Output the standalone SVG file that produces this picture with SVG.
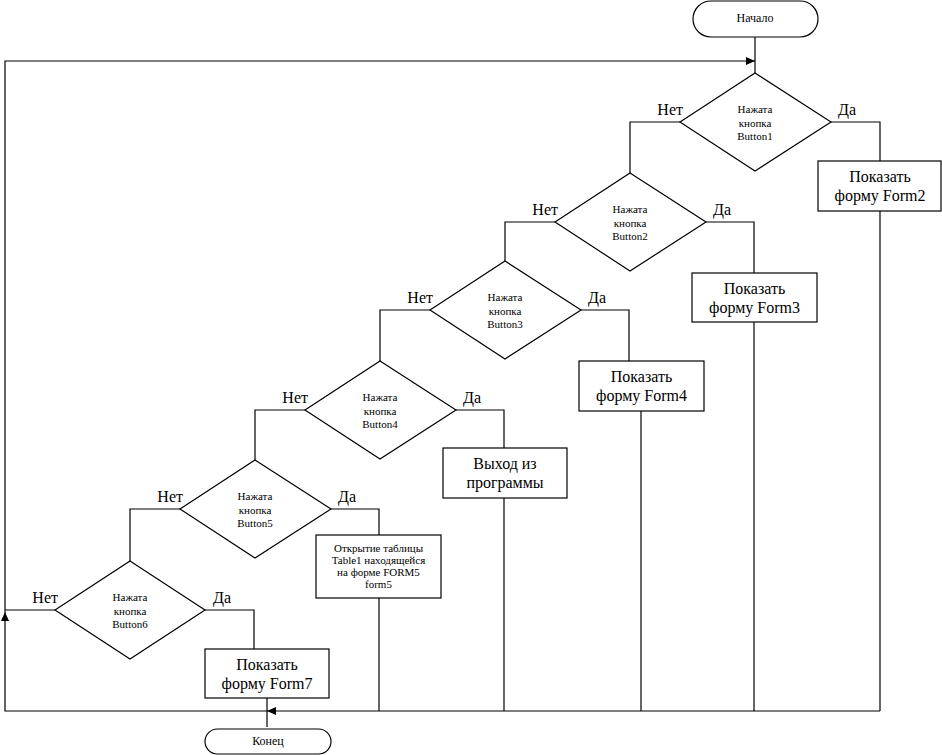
<svg xmlns="http://www.w3.org/2000/svg" width="942" height="755" viewBox="0 0 942 755">
<style>
.s{fill:#fff;stroke:#000;stroke-width:1.2}
.c{fill:none;stroke:#000;stroke-width:1.2}
text{font-family:"Liberation Serif","Times New Roman",serif;fill:#000}
.t{font-size:11px;text-anchor:middle}
.b{font-size:16px;text-anchor:middle}
.l{font-size:16px}
.e{text-anchor:end}
</style>
<defs>
<marker id="ar" markerWidth="10" markerHeight="8" refX="9" refY="4" orient="auto" markerUnits="userSpaceOnUse">
<path d="M0,0 L9,4 L0,8 Z" fill="#000"/>
</marker>
</defs>
<rect x="0" y="0" width="942" height="755" fill="#fff"/>
<g id="connectors">
<path class="c" d="M755,37 V73"/>
<path class="c" d="M880,711 H267" marker-end="url(#ar)"/>
<path class="c" d="M267,711 H5 V612" marker-end="url(#ar)"/>
<path class="c" d="M5,612 V61 H755" marker-end="url(#ar)"/>
<path class="c" d="M55,610 H5"/>
<path class="c" d="M267,698 V727"/>
<path class="c" d="M680,122 H630 V173"/>
<path class="c" d="M555,222 H505 V261"/>
<path class="c" d="M430,310 H380 V361"/>
<path class="c" d="M305,410 H255 V460"/>
<path class="c" d="M180,509 H130 V561"/>
<path class="c" d="M831,122 H880 V161"/>
<path class="c" d="M706,222 H754 V273"/>
<path class="c" d="M581,310 H629 V361"/>
<path class="c" d="M456,410 H504 V448"/>
<path class="c" d="M331,509 H379 V535"/>
<path class="c" d="M205,610 H254 V649"/>
<path class="c" d="M880,211 V711"/>
<path class="c" d="M754,322 V711"/>
<path class="c" d="M641,411 V711"/>
<path class="c" d="M504,498 V711"/>
<path class="c" d="M379,598 V711"/>
</g>
<g id="start">
<rect class="s" x="693" y="1" width="125" height="36" rx="18" ry="18"/>
<text x="755" y="22" font-size="12" text-anchor="middle">Начало</text>
</g>
<g id="end">
<rect class="s" x="205" y="729" width="126" height="25" rx="12.5" ry="12.5"/>
<text x="268" y="745" font-size="12" text-anchor="middle">Конец</text>
</g>
<g id="d1">
<polygon class="s" points="755,73 831,122 755,171 680,122"/>
<text class="t" x="755" y="113">Нажата</text>
<text class="t" x="755" y="127">кнопка</text>
<text class="t" x="755" y="140">Button1</text>
<text class="l e" x="683" y="115">Нет</text>
<text class="l" x="838" y="115">Да</text>
</g>
<g id="d2">
<polygon class="s" points="630,173 706,222 630,271 555,222"/>
<text class="t" x="630" y="213">Нажата</text>
<text class="t" x="630" y="227">кнопка</text>
<text class="t" x="630" y="240">Button2</text>
<text class="l e" x="558" y="215">Нет</text>
<text class="l" x="713" y="215">Да</text>
</g>
<g id="d3">
<polygon class="s" points="505,261 581,310 505,359 430,310"/>
<text class="t" x="505" y="301">Нажата</text>
<text class="t" x="505" y="315">кнопка</text>
<text class="t" x="505" y="328">Button3</text>
<text class="l e" x="433" y="303">Нет</text>
<text class="l" x="588" y="303">Да</text>
</g>
<g id="d4">
<polygon class="s" points="380,361 456,410 380,459 305,410"/>
<text class="t" x="380" y="401">Нажата</text>
<text class="t" x="380" y="415">кнопка</text>
<text class="t" x="380" y="428">Button4</text>
<text class="l e" x="308" y="403">Нет</text>
<text class="l" x="463" y="403">Да</text>
</g>
<g id="d5">
<polygon class="s" points="255,460 331,509 255,558 180,509"/>
<text class="t" x="255" y="500">Нажата</text>
<text class="t" x="255" y="514">кнопка</text>
<text class="t" x="255" y="527">Button5</text>
<text class="l e" x="183" y="502">Нет</text>
<text class="l" x="338" y="502">Да</text>
</g>
<g id="d6">
<polygon class="s" points="130,561 205,610 130,659 55,610"/>
<text class="t" x="130" y="601">Нажата</text>
<text class="t" x="130" y="615">кнопка</text>
<text class="t" x="130" y="628">Button6</text>
<text class="l e" x="58" y="603">Нет</text>
<text class="l" x="213" y="603">Да</text>
</g>
<g id="form2">
<rect class="s" x="818" y="161" width="123" height="50"/>
<text class="b" x="880" y="182">Показать</text>
<text class="b" x="880" y="201">форму Form2</text>
</g>
<g id="form3">
<rect class="s" x="692" y="273" width="125" height="49"/>
<text class="b" x="754.5" y="294">Показать</text>
<text class="b" x="754.5" y="313">форму Form3</text>
</g>
<g id="form4">
<rect class="s" x="579" y="361" width="125" height="50"/>
<text class="b" x="641.5" y="382">Показать</text>
<text class="b" x="641.5" y="401">форму Form4</text>
</g>
<g id="exit">
<rect class="s" x="443" y="448" width="124" height="50"/>
<text class="b" x="505" y="469">Выход из</text>
<text class="b" x="505" y="488">программы</text>
</g>
<g id="open-table">
<rect class="s" x="316" y="535" width="125" height="63"/>
<text class="t" x="378.5" y="552">Открытие таблицы</text>
<text class="t" x="378.5" y="564">Table1 находящейся</text>
<text class="t" x="378.5" y="576">на форме FORM5</text>
<text class="t" x="378.5" y="588">form5</text>
</g>
<g id="form7">
<rect class="s" x="205" y="649" width="124" height="49"/>
<text class="b" x="267" y="670">Показать</text>
<text class="b" x="267" y="689">форму Form7</text>
</g>
</svg>
